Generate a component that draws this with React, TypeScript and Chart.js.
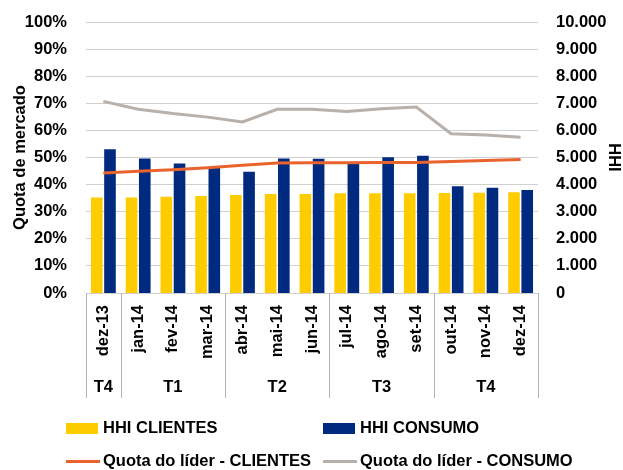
import React, { useEffect, useRef } from 'react';
import { Chart, registerables } from 'chart.js';

Chart.register(...registerables);

const months = ['dez-13', 'jan-14', 'fev-14', 'mar-14', 'abr-14', 'mai-14', 'jun-14', 'jul-14', 'ago-14', 'set-14', 'out-14', 'nov-14', 'dez-14'];
const quarterLabels = ['T4', 'T1', 'T2', 'T3', 'T4'];
const quarterSizes = [1, 3, 3, 3, 3];

const hhiClientes = [3520, 3520, 3550, 3580, 3620, 3650, 3650, 3680, 3680, 3680, 3690, 3700, 3720];
const hhiConsumo = [5300, 4960, 4780, 4640, 4470, 4960, 4950, 4800, 5010, 5060, 3940, 3880, 3800];
const quotaClientes = [44.3, 44.9, 45.5, 46.2, 47.1, 48.0, 48.1, 48.1, 48.2, 48.2, 48.5, 48.9, 49.3];
const quotaConsumo = [70.7, 67.8, 66.2, 64.9, 63.1, 67.8, 67.8, 67.0, 68.0, 68.6, 58.8, 58.3, 57.5];

const FONT = '"Liberation Sans", Arial, sans-serif';
const FSIZE = 16.5;
const YELLOW = '#FFCC00';
const NAVY = '#002A7F';
const ORANGE = '#E9632D';
const GRAY = '#B8B0AA';

const fmtThousands = (v: number) => {
  const s = String(Math.round(v));
  return s.replace(/\B(?=(\d{3})+(?!\d))/g, '.');
};

const quarterPlugin = {
  id: 'quarters',
  afterDraw(chart: any) {
    const x = chart.scales.x;
    const ctx = chart.ctx;
    const n = months.length;
    const step = (x.right - x.left) / n;
    const bounds = [0];
    let idx = 0;
    quarterSizes.forEach((s) => {
      idx += s;
      bounds.push(idx);
    });
    ctx.save();
    ctx.strokeStyle = '#b4b4b4';
    ctx.lineWidth = 1;
    bounds.forEach((b) => {
      const px = Math.round(x.left + b * step) + 0.5;
      ctx.beginPath();
      ctx.moveTo(px, x.top);
      ctx.lineTo(px, x.bottom);
      ctx.stroke();
    });
    ctx.fillStyle = '#000';
    ctx.font = `bold ${FSIZE}px ${FONT}`;
    ctx.textAlign = 'center';
    ctx.textBaseline = 'middle';
    for (let q = 0; q < quarterLabels.length; q++) {
      const cx = x.left + ((bounds[q] + bounds[q + 1]) / 2) * step;
      ctx.fillText(quarterLabels[q], cx, x.bottom - 11);
    }

    // legend
    const cols = [66, 323];
    const rows = [428.5, 461.5];
    const ds = chart.data.datasets;
    ds.forEach((d: any, i: number) => {
      const lx = cols[i % 2];
      const ly = rows[Math.floor(i / 2)];
      if (d.type === 'line') {
        ctx.strokeStyle = d.borderColor;
        ctx.lineWidth = 3;
        ctx.beginPath();
        ctx.moveTo(lx, ly);
        ctx.lineTo(lx + 34, ly);
        ctx.stroke();
      } else {
        ctx.fillStyle = d.backgroundColor;
        ctx.fillRect(lx, ly - 5.5, 32, 11);
      }
      ctx.fillStyle = '#000';
      ctx.textAlign = 'left';
      ctx.textBaseline = 'middle';
      ctx.fillText(d.label, lx + 37, ly);
    });
    ctx.restore();
  },
};

export default function App() {
  const ref = useRef<HTMLCanvasElement>(null);

  useEffect(() => {
    if (!ref.current) return;
    const font = { family: FONT, size: FSIZE, weight: 'bold' };
    const chart = new Chart(ref.current, {
      type: 'bar',
      data: {
        labels: months,
        datasets: [
          {
            type: 'bar',
            label: 'HHI CLIENTES',
            data: hhiClientes,
            backgroundColor: YELLOW,
            yAxisID: 'y1',
            order: 2,
            categoryPercentage: 0.76,
            barPercentage: 0.88,
          },
          {
            type: 'bar',
            label: 'HHI CONSUMO',
            data: hhiConsumo,
            backgroundColor: NAVY,
            yAxisID: 'y1',
            order: 2,
            categoryPercentage: 0.76,
            barPercentage: 0.88,
          },
          {
            type: 'line',
            label: 'Quota do líder - CLIENTES',
            data: quotaClientes,
            borderColor: ORANGE,
            backgroundColor: ORANGE,
            borderWidth: 3,
            pointRadius: 0,
            tension: 0,
            yAxisID: 'y',
            order: 0,
          },
          {
            type: 'line',
            label: 'Quota do líder - CONSUMO',
            data: quotaConsumo,
            borderColor: GRAY,
            backgroundColor: GRAY,
            borderWidth: 3,
            pointRadius: 0,
            tension: 0,
            yAxisID: 'y',
            order: 0,
          },
        ] as any,
      },
      options: {
        animation: false,
        responsive: true,
        maintainAspectRatio: false,
        layout: { padding: { top: 22, bottom: 72, left: 0, right: 0 } },
        plugins: {
          legend: { display: false },
          tooltip: { enabled: false },
        },
        scales: {
          x: {
            grid: { display: false, drawTicks: false },
            border: { display: false },
            ticks: {
              minRotation: 90,
              maxRotation: 90,
              autoSkip: false,
              padding: 12,
              color: '#000',
              font,
            },
            afterFit(scale: any) {
              scale.height = 105;
              scale.paddingLeft = 0;
              scale.paddingRight = 0;
            },
          },
          y: {
            position: 'left',
            min: 0,
            max: 100,
            grid: { color: '#d0d0d0', drawTicks: false },
            border: { display: false },
            ticks: {
              stepSize: 10,
              autoSkip: false,
              padding: 19,
              color: '#000',
              font,
              callback: (v: any) => `${v}%`,
            },
            title: {
              display: true,
              text: 'Quota de mercado',
              color: '#000',
              font: { ...font, lineHeight: 1 },
              padding: { top: 12, bottom: 0 },
            },
            afterFit(scale: any) {
              scale.width = 86;
              scale.paddingTop = 0;
              scale.paddingBottom = 0;
            },
          },
          y1: {
            position: 'right',
            min: 0,
            max: 10000,
            grid: { display: false, drawTicks: false },
            border: { display: false },
            ticks: {
              stepSize: 1000,
              autoSkip: false,
              padding: 18,
              color: '#000',
              font,
              callback: (v: any) => fmtThousands(Number(v)),
            },
            title: {
              display: true,
              text: 'HHI',
              color: '#000',
              font: { ...font, lineHeight: 1 },
              padding: { top: 1, bottom: 0 },
            },
            afterFit(scale: any) {
              scale.width = 85;
              scale.paddingTop = 0;
              scale.paddingBottom = 0;
            },
          },
        },
      } as any,
      plugins: [quarterPlugin],
    });
    return () => chart.destroy();
  }, []);

  return (
    <div style={{ position: 'fixed', left: 0, top: 0, width: 623, height: 470, background: '#fff' }}>
      <canvas ref={ref} />
    </div>
  );
}
